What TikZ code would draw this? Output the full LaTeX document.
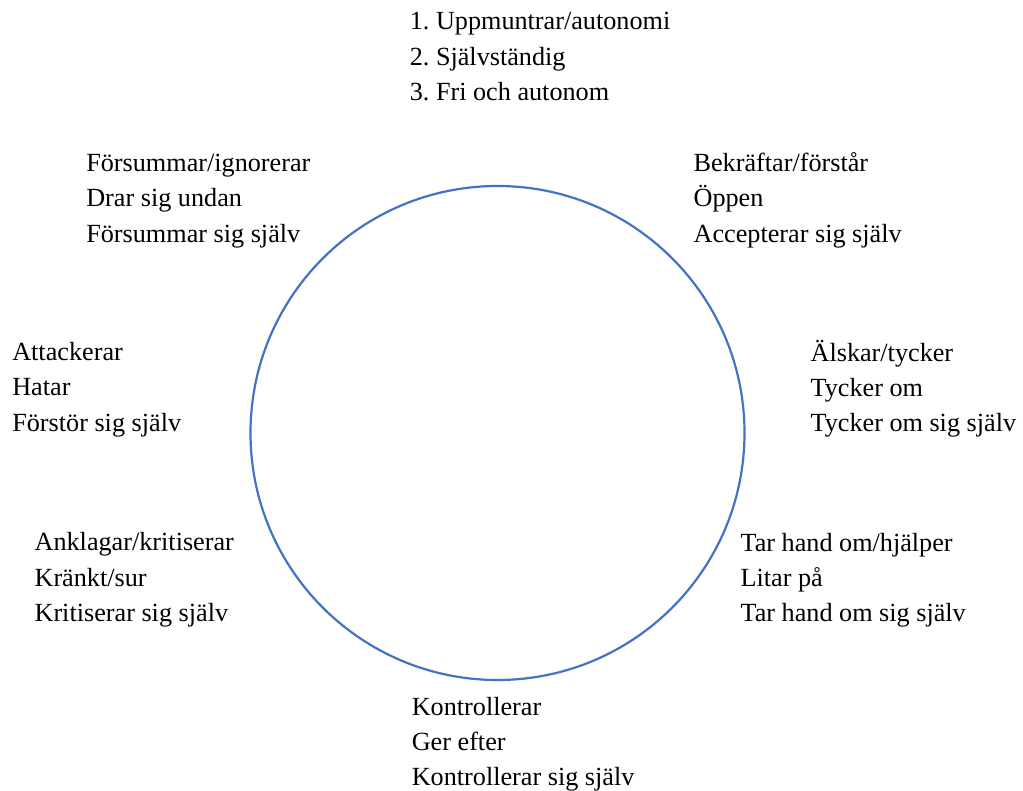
\documentclass[tikz,border=0pt]{standalone}
\usepackage{fontspec}
\setmainfont{Liberation Serif}
\frenchspacing
\definecolor{ringblue}{RGB}{68,114,196}
\tikzset{
  lbl/.style={align=left, anchor=base west, inner sep=0pt, outer sep=0pt,
    font=\fontsize{26.2}{35.3}\selectfont\frenchspacing},
  ring/.style={draw=ringblue, line width=2.2pt}
}
\begin{document}
\begin{tikzpicture}[x=1pt,y=-1pt]
\fill[white] (0,0) rectangle (1023,791);
\useasboundingbox (0,0) rectangle (1023,791);
\draw[ring] (497.5,433) circle (247pt);
% anchors are at the baseline of the last line of each block
\node[lbl] (top) at (409.8,100.6) {1. Uppmuntrar/autonomi\\2. Självständig\\3. Fri och autonom};
\node[lbl] (ul) at (86.3,242.3) {Försummar/ignorerar\\Drar sig undan\\Försummar sig själv};
\node[lbl] (ur) at (693.6,242.3) {Bekräftar/förstår\\Öppen\\Accepterar sig själv};
\node[lbl] (l) at (12.3,431.3) {Attackerar\\Hatar\\Förstör sig själv};
\node[lbl] (r) at (810.6,431.6) {Älskar/tycker\\Tycker om\\Tycker om sig själv};
\node[lbl] (ll) at (34.6,621.3) {Anklagar/kritiserar\\Kränkt/sur\\Kritiserar sig själv};
\node[lbl] (lr) at (740.6,621.6) {Tar hand om/hjälper\\Litar på\\Tar hand om sig själv};
\node[lbl] (b) at (411.8,785.6) {Kontrollerar\\Ger efter\\Kontrollerar sig själv};
\end{tikzpicture}
\end{document}
